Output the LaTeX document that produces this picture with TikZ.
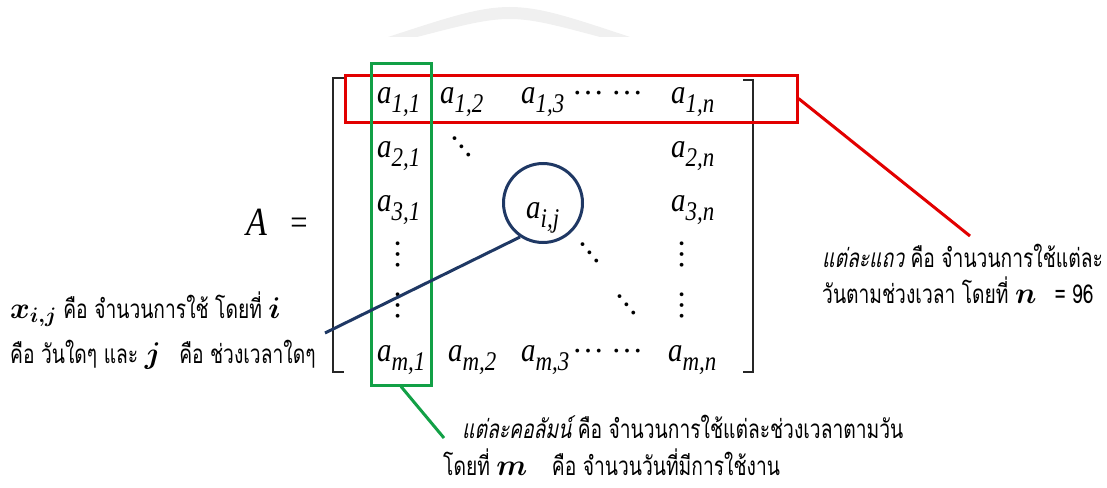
\documentclass[tikz,border=0pt]{standalone}
\usepackage{fix-cm}
\usepackage{fontspec}
\usepackage{amsmath}
\usepackage{tikz}
\usetikzlibrary{calc}
\newfontfamily\tnr[FakeStretch=0.85]{Liberation Serif}
\newfontfamily\tnrdots{Liberation Serif}
\newfontfamily\thai[Script=Thai,FakeStretch=0.74]{Loma}
\newfontfamily\thaisl[Script=Thai,FakeStretch=0.74,FakeSlant=0.2]{Loma}
\definecolor{rowred}{RGB}{226,0,0}
\definecolor{colgreen}{RGB}{18,160,70}
\definecolor{cellblue}{RGB}{31,56,100}
\newcommand{\ent}[1]{a\raisebox{-9pt}{\fontsize{27}{27}\selectfont #1}}
\newcommand{\mv}[1]{{\fontsize{30}{30}\selectfont\boldmath$#1$}}

\begin{document}
\begin{tikzpicture}[
  x=1pt, y=-1pt,
  ent/.style={font=\fontsize{34}{40}\selectfont\tnr\itshape, inner sep=0pt, anchor=base west},
  dts/.style={font=\fontsize{32}{32}\selectfont\tnrdots, inner sep=0pt},
  thtxt/.style={font=\fontsize{26}{30}\selectfont\thai, inner sep=0pt, anchor=base west},
  brk/.style={line width=2.2pt, black!85},
  hl/.style={draw=#1, line width=3pt, inner sep=0pt},
]
\useasboundingbox (0,0) rectangle (1107,487);
% faint arc at the top
\fill[black!6] (388,37) .. controls (510,-3) .. (630,37) -- (600,37) .. controls (510,13) .. (417,37) -- cycle;
% A =
\node[inner sep=0pt, anchor=base west, font=\fontsize{40}{40}\selectfont\tnr\itshape] (A) at (246,235) {A};
\node[inner sep=0pt, font=\fontsize{36}{36}\selectfont\tnr] (eq) at (299,226) {=};
% brackets
\draw[brk] (344,78) -- (333,78) -- (333,372) -- (344,372);
\draw[brk] (743,80) -- (753,80) -- (753,372) -- (743,372);
% entries
\node[ent] (a11) at (377,103) {\ent{1,1}};
\node[ent] (a12) at (440,103) {\ent{1,2}};
\node[ent] (a13) at (521,103) {\ent{1,3}};
\node[dts] (d1a) at (588,93) {…};
\node[dts] (d1b) at (627,93) {…};
\node[ent] (a1n) at (671,103) {\ent{1,n}};
\node[ent] (a21) at (377,157) {\ent{2,1}};
\node[dts, rotate=-50] (dd2) at (462,147) {…};
\node[ent] (a2n) at (671,157) {\ent{2,n}};
\node[ent] (a31) at (377,211) {\ent{3,1}};
\node[ent] (a3n) at (671,211) {\ent{3,n}};
\node[dts, rotate=90] (v1a) at (398,254) {…};
\node[dts, rotate=90] (v1b) at (398,305) {…};
\node[dts, rotate=90] (vna) at (682,254) {…};
\node[dts, rotate=90] (vnb) at (682,305) {…};
\node[dts, rotate=-50] (dd3) at (590,253) {…};
\node[dts, rotate=-50] (dd4) at (627,305) {…};
\node[ent] (am1) at (377,361) {\ent{m,1}};
\node[ent] (am2) at (448,361) {\ent{m,2}};
\node[ent] (am3) at (521,361) {\ent{m,3}};
\node[dts] (dma) at (588,351) {…};
\node[dts] (dmb) at (627,351) {…};
\node[ent] (amn) at (668,361) {\ent{m,n}};
% highlighted row, column and cell
\node[hl=rowred, minimum width=452pt, minimum height=47pt] (row1) at (571,98.5) {};
\node[hl=colgreen, minimum width=60pt, minimum height=322pt] (col1) at (401,224) {};
\node[hl=cellblue, circle, minimum size=79pt] (aij) at (543,203) {};
\node[ent] (aijt) at (526,218) {\ent{i,j}};
% call-out ends
\coordinate (rowtip) at (970,236);
\coordinate (coltip) at (444,438);
\coordinate (celltip) at (325,333);
\draw[rowred, line width=3pt] (row1.east) -- (rowtip);
\draw[colgreen, line width=3pt] (col1.south) -- (coltip);
\draw[cellblue, line width=3pt] (aij.236) -- (celltip);
% explanations
\node[thtxt] (lt1) at (10,318) {\mv{x_{i,j}} คือ จำนวนการใช้ โดยที่ \mv{i}};
\node[thtxt] (lt2) at (10,363) {คือ วันใดๆ และ \mv{j}\hspace{12pt} คือ ช่วงเวลาใดๆ};
\node[thtxt] (rt1) at (822,267) {{\thaisl แต่ละแถว} คือ จำนวนการใช้แต่ละ};
\node[thtxt] (rt2) at (822,303) {วันตามช่วงเวลา โดยที่ \mv{n}\hspace{18pt}= 96};
\node[thtxt] (bt1) at (462,438) {{\thaisl แต่ละคอลัมน์} คือ จำนวนการใช้แต่ละช่วงเวลาตามวัน};
\node[thtxt] (bt2) at (443,475) {โดยที่ \mv{m}\hspace{18pt} คือ จำนวนวันที่มีการใช้งาน};
\end{tikzpicture}
\end{document}
